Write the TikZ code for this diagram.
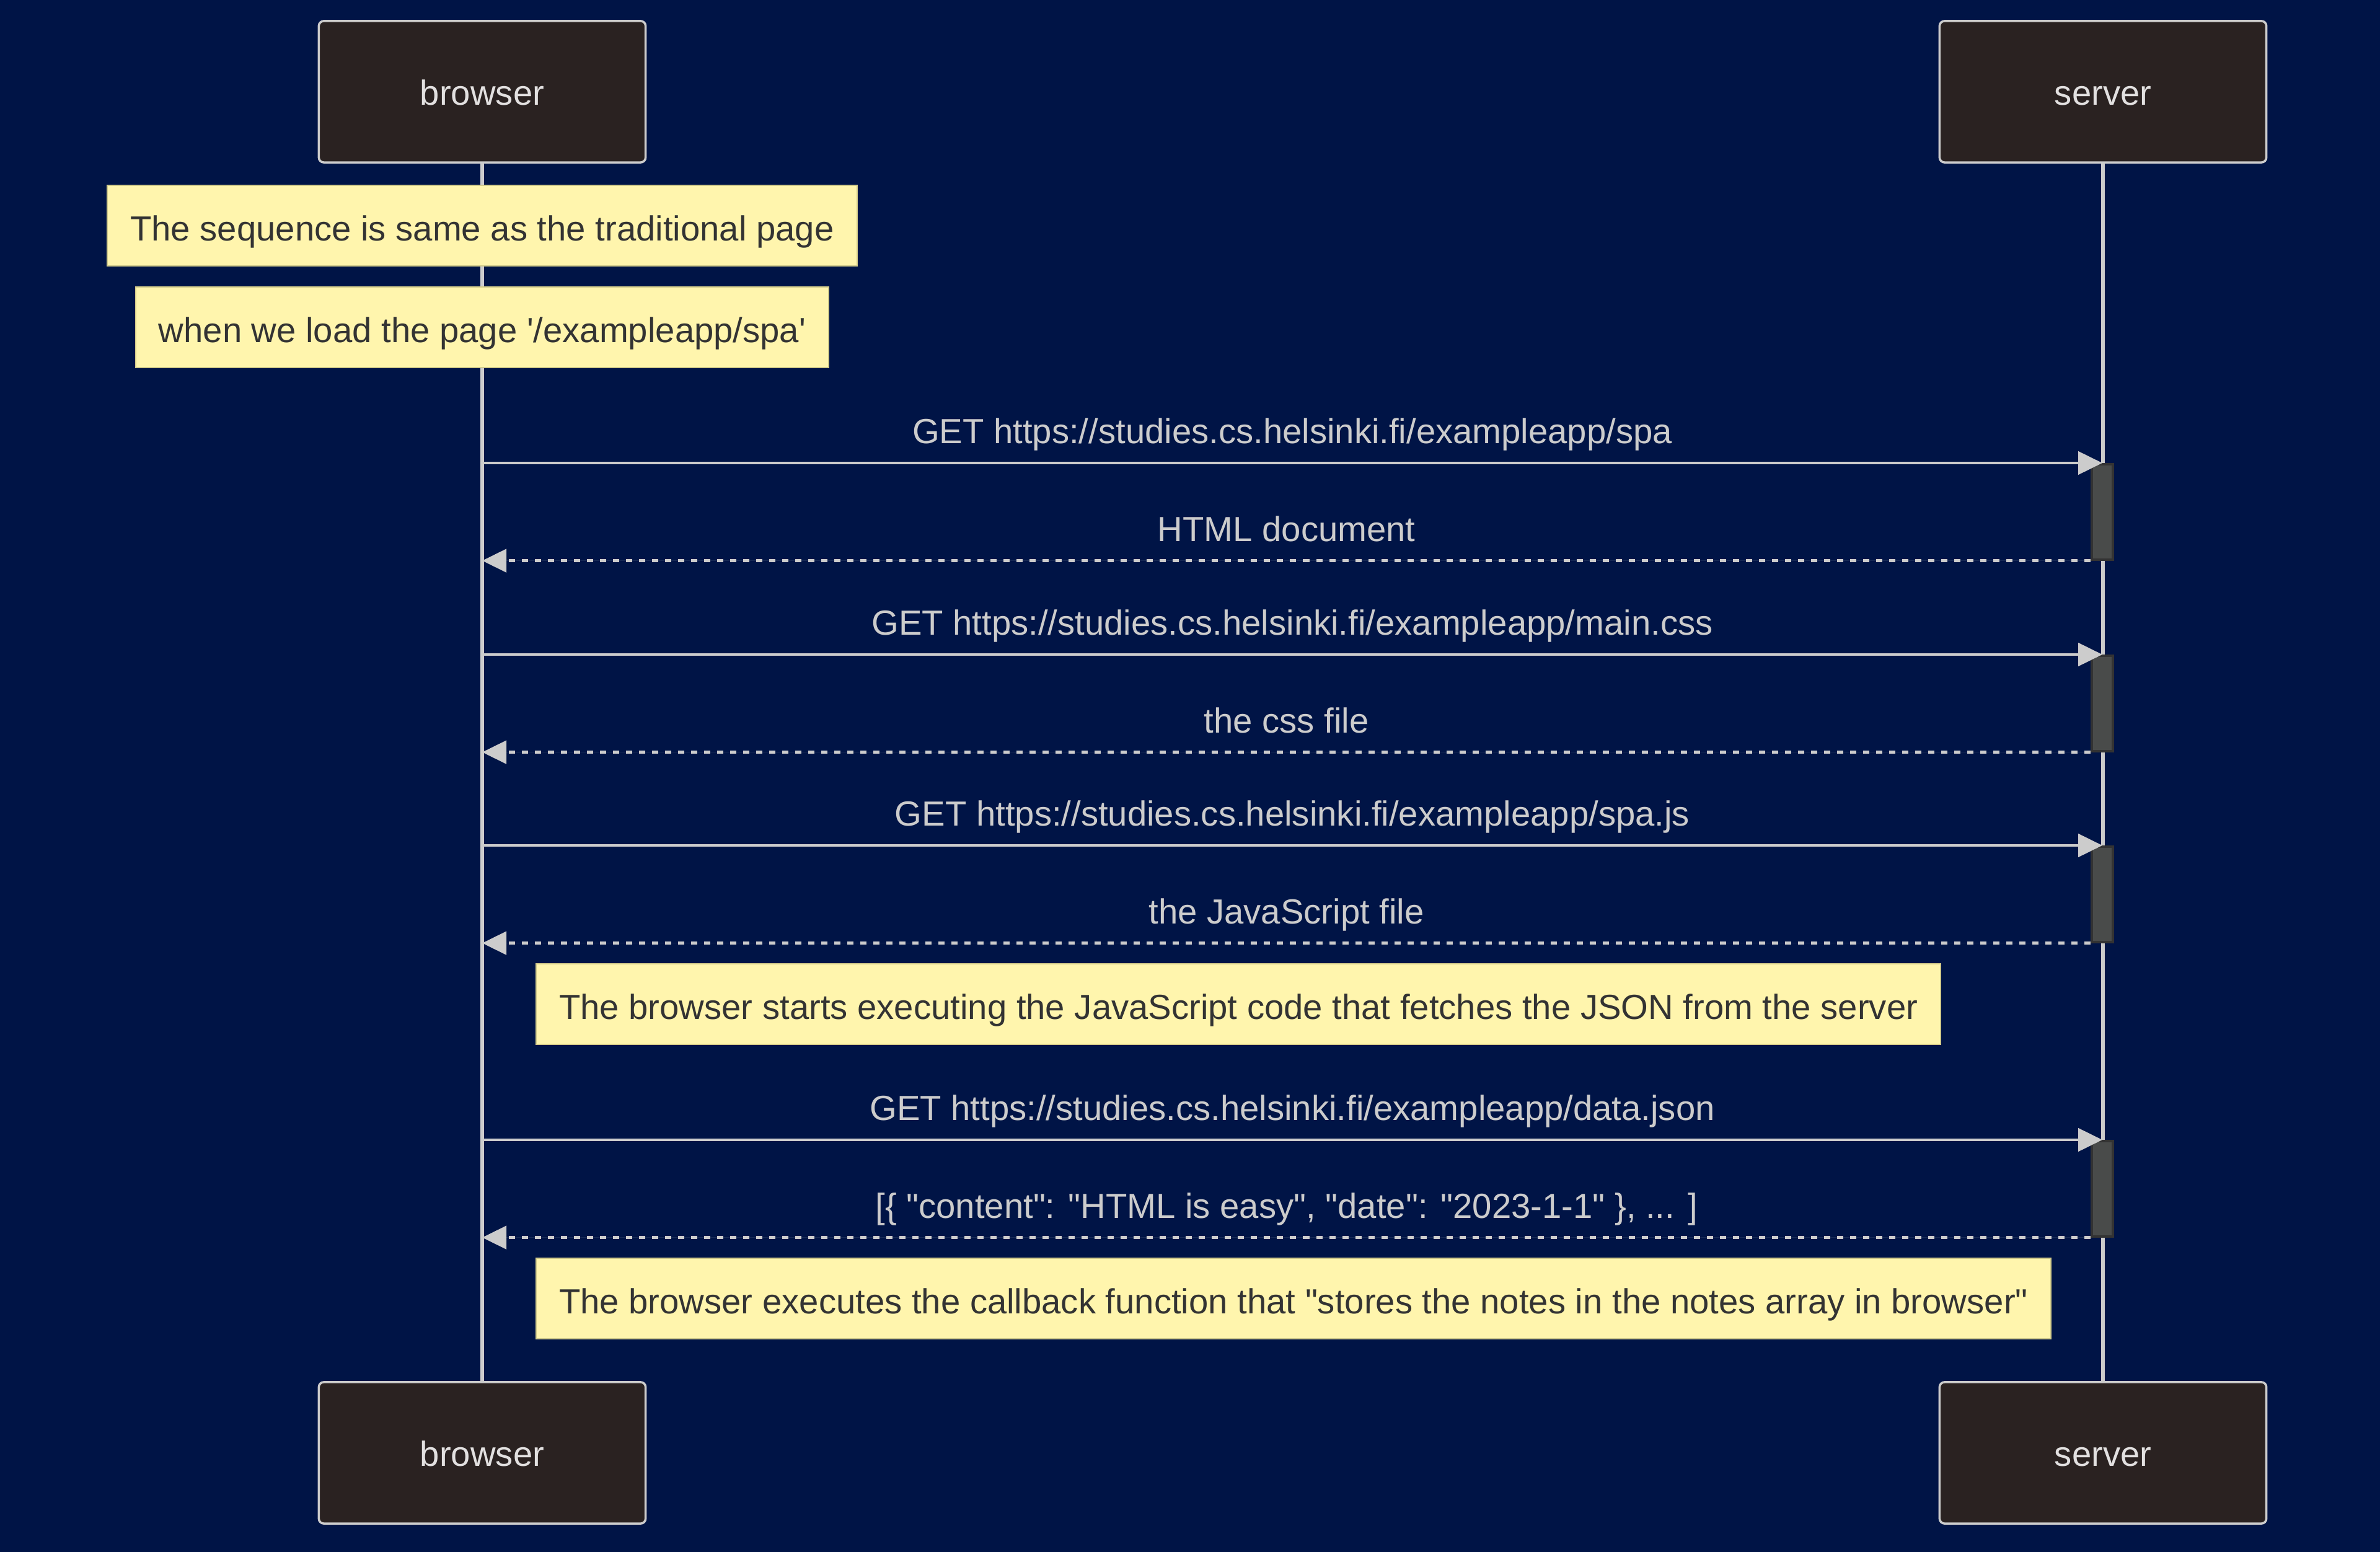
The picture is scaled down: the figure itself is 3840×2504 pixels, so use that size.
\documentclass[tikz,border=0pt]{standalone}
\usepackage{fontspec}
\setmainfont{Liberation Sans}[Ligatures=TeXOff]
\usepackage{xcolor}
\usepackage{tikz}
\usetikzlibrary{arrows.meta, positioning, calc}

\definecolor{bgnavy}{HTML}{001446}
\definecolor{actorfill}{HTML}{2A2221}
\definecolor{actortext}{HTML}{E2E0E0}
\definecolor{linegrey}{HTML}{CCCCCC}
\definecolor{notefill}{HTML}{FFF5AD}
\definecolor{noteedge}{HTML}{D2CB8A}
\definecolor{notetext}{HTML}{333333}
\definecolor{actfill}{HTML}{494B4A}
\definecolor{actedge}{HTML}{333333}
\newcommand{\seqfont}{\fontsize{16}{19}\selectfont}

\begin{document}
\begin{tikzpicture}[
    x=0.01cm, y=-0.01cm,
    actor/.style={draw=linegrey, line width=1pt, rounded corners=0.08cm, fill=actorfill,
                  text=actortext, minimum width=5.27cm, minimum height=2.28cm, font=\seqfont,
                  text height=0.6cm, text depth=0.18cm},
    note/.style={draw=noteedge, line width=0.6pt, fill=notefill, text=notetext,
                 minimum height=1.3cm, inner xsep=0.37cm, font=\seqfont,
                 text height=0.62cm, text depth=0.14cm},
    actbar/.style={draw=actedge, line width=1pt, fill=actfill, inner sep=0pt,
                   minimum width=0.34cm, minimum height=1.54cm, anchor=north},
    lbl/.style={text=linegrey, font=\seqfont, anchor=base, yshift=0.31cm},
    life/.style={draw=linegrey, line width=1.7pt},
    call/.style={-{Triangle[length=0.39cm, width=0.37cm]}, draw=linegrey, fill=linegrey, line width=1.4pt},
    reply/.style={call, dash pattern=on 0.1cm off 0.11cm}
]
  % Background
  \fill[bgnavy] (0,0) rectangle (3840,2504);
  \useasboundingbox (0,0) rectangle (3840,2504);

  % Actors
  \node[actor] (browserTop) at (778,148) {browser};
  \node[actor] (serverTop) at (3393,148) {server};
  \node[actor] (browserBot) at (778,2344) {browser};
  \node[actor] (serverBot) at (3393,2344) {server};

  % Lifelines
  \draw[life] (browserTop) -- (browserBot);
  \draw[life] (serverTop) -- (serverBot);

  % Notes
  \node[note] (note1) at (778,364) {The sequence is same as the traditional page};
  \node[note] (note2) at (778,528) {when we load the page '/exampleapp/spa'};
  \node[note, anchor=west] (note3) at (864,1620)
      {The browser starts executing the JavaScript code that fetches the JSON from the server};
  \node[note, anchor=west] (note4) at (864,2095)
      {The browser executes the callback function that "stores the notes in the notes array in browser"};

  % Activations
  \node[actbar] (act1) at (3392,747) {};
  \node[actbar] (act2) at (3392,1056) {};
  \node[actbar] (act3) at (3392,1364) {};
  \node[actbar] (act4) at (3392,1839) {};

  \coordinate (req1) at (browserTop |- act1.north);
  \coordinate (res1) at (browserTop |- act1.south);
  \coordinate (req2) at (browserTop |- act2.north);
  \coordinate (res2) at (browserTop |- act2.south);
  \coordinate (req3) at (browserTop |- act3.north);
  \coordinate (res3) at (browserTop |- act3.south);
  \coordinate (req4) at (browserTop |- act4.north);
  \coordinate (res4) at (browserTop |- act4.south);

  % Messages
  \draw[call] (req1) -- (act1.north)
      node[lbl, midway] {GET https://studies.cs.helsinki.fi/exampleapp/spa};
  \draw[reply] (act1.south west) -- (res1)
      node[lbl, midway] {HTML document};
  \draw[call] (req2) -- (act2.north)
      node[lbl, midway] {GET https://studies.cs.helsinki.fi/exampleapp/main.css};
  \draw[reply] (act2.south west) -- (res2)
      node[lbl, midway] {the css file};
  \draw[call] (req3) -- (act3.north)
      node[lbl, midway] {GET https://studies.cs.helsinki.fi/exampleapp/spa.js};
  \draw[reply] (act3.south west) -- (res3)
      node[lbl, midway] {the JavaScript file};
  \draw[call] (req4) -- (act4.north)
      node[lbl, midway] {GET https://studies.cs.helsinki.fi/exampleapp/data.json};
  \draw[reply] (act4.south west) -- (res4)
      node[lbl, midway] {[\{ "content": "HTML is easy", "date": "2023-1-1" \}, ... ]};
\end{tikzpicture}
\end{document}
